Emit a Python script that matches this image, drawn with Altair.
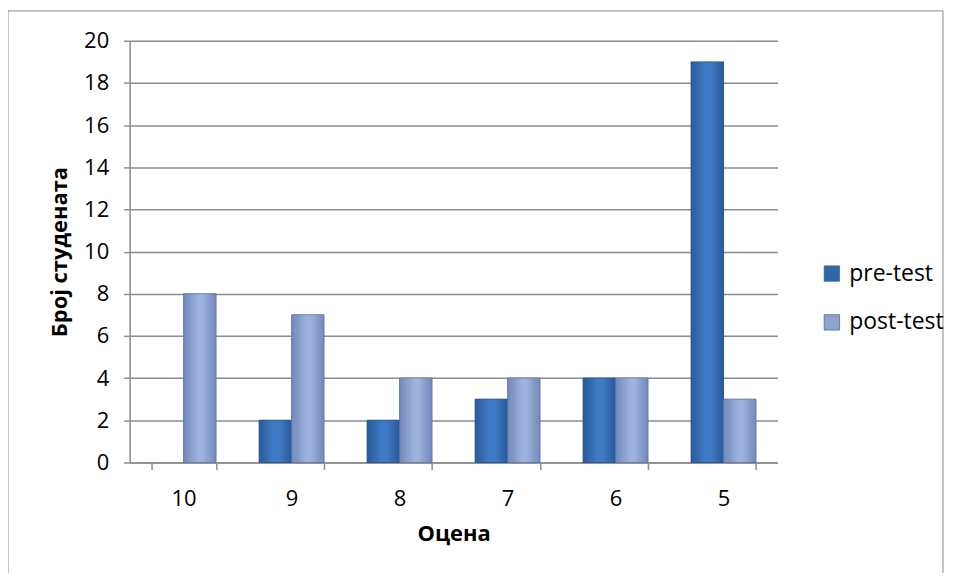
import altair as alt
import pandas as pd

grades = ["10", "9", "8", "7", "6", "5"]
series = ["pre-test", "post-test"]
pre_test = [0, 2, 2, 3, 4, 19]
post_test = [8, 7, 4, 4, 4, 3]
y_ticks = list(range(0, 21, 2))

rows = []
for g, a, b in zip(grades, pre_test, post_test):
    rows.append({"Оцена": g, "serija": "pre-test", "broj": a})
    rows.append({"Оцена": g, "serija": "post-test", "broj": b})
df = pd.DataFrame(rows)

FONT = "Open Sans"
GRID = "#8c8c8c"

x_enc = alt.X("Оцена:N", sort=grades, title="Оцена",
              scale=alt.Scale(paddingInner=0.4, paddingOuter=0.2),
              axis=alt.Axis(labelAngle=0, labelPadding=19, tickSize=7, tickBand="extent",
                            titlePadding=14, domainColor=GRID, tickColor=GRID,
                            domainWidth=1.5, tickWidth=1.5))
xoff = alt.XOffset("serija:N", sort=series, scale=alt.Scale(domain=series))
y_enc = alt.Y("broj:Q", title="Број студената",
              scale=alt.Scale(domain=[0, 20], nice=False),
              axis=alt.Axis(values=y_ticks, tickSize=6, labelPadding=15, titlePadding=12,
                            domainColor=GRID, tickColor=GRID, gridColor=GRID,
                            gridWidth=1.5, domainWidth=1.5, tickWidth=1.5))

nonzero = alt.datum.broj > 0

base = alt.Chart(df).transform_filter(nonzero).mark_bar(stroke="#2c4f80", strokeWidth=0.5).encode(
    x=x_enc, xOffset=xoff, y=y_enc,
    color=alt.Color("serija:N", sort=series,
                    scale=alt.Scale(domain=series, range=["#2f67ae", "#8da4cf"]),
                    legend=alt.Legend(title=None, orient="none", legendX=693, legendY=222,
                                      symbolType="square", symbolSize=240,
                                      symbolStrokeWidth=0.6, symbolStrokeColor="#33557f",
                                      labelFontSize=23, labelFont=FONT, rowPadding=25,
                                      labelOffset=6))
)

def grad(c_edge, c_mid):
    return alt.Gradient(gradient="linear", x1=0, x2=1, y1=0, y2=0,
                        stops=[alt.GradientStop(color=c_edge, offset=0),
                               alt.GradientStop(color=c_mid, offset=0.45),
                               alt.GradientStop(color=c_mid, offset=0.6),
                               alt.GradientStop(color=c_edge, offset=1)])

pre_layer = alt.Chart(df).transform_filter(nonzero).transform_filter(
    alt.datum.serija == "pre-test").mark_bar(
    fill=grad("#295a9c", "#3f7bc4"), stroke="#25507f", strokeWidth=0.6
).encode(x=x_enc, xOffset=xoff, y=y_enc)

post_layer = alt.Chart(df).transform_filter(nonzero).transform_filter(
    alt.datum.serija == "post-test").mark_bar(
    fill=grad("#7189ba", "#9cb2dc"), stroke="#5f7aa8", strokeWidth=0.6
).encode(x=x_enc, xOffset=xoff, y=y_enc)

border = alt.Chart(alt.Data(values=[{}])).mark_rect(
    fill=None, stroke="#8a8a8a", strokeWidth=1, clip=False
).encode(x=alt.value(-122), x2=alt.value(816), y=alt.value(-30), y2=alt.value(537))

chart = alt.layer(base, pre_layer, post_layer, border).properties(
    width=650, height=423,
    autosize=alt.AutoSizeParams(type="none"),
    padding={"left": 122, "top": 32, "right": 170, "bottom": 110},
).configure_view(stroke=None).configure_axis(
    labelFont=FONT, titleFont=FONT, labelFontSize=22, titleFontSize=22,
    titleFontWeight="bold", labelColor="#000000", titleColor="#000000"
).configure_axisX(grid=False)

chart.save("out.html", embed_options={"renderer": "svg", "actions": False})
